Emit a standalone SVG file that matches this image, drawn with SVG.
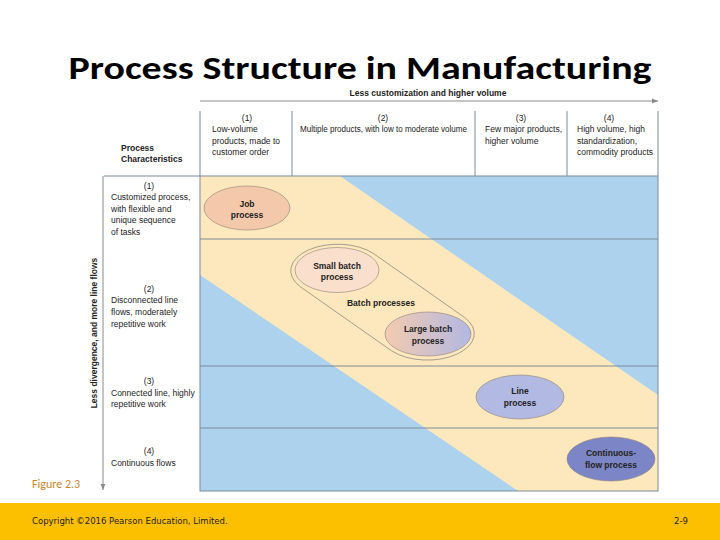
<svg xmlns="http://www.w3.org/2000/svg" width="720" height="540" viewBox="0 0 720 540">
<style>
.t{font-family:"Liberation Sans Narrow","Liberation Sans",Arial,sans-serif;font-size:8.5px;fill:#222}
.b{font-weight:bold}
.c{text-anchor:middle}
.grid{stroke:#7c8c9a;stroke-width:1;fill:none}
.ell{stroke:#8b7f79;stroke-width:0.6}
</style>
<defs>
<linearGradient id="lg" x1="0" y1="0" x2="1" y2="0">
<stop offset="0" stop-color="#f3cbb0"/>
<stop offset="1" stop-color="#b3b8e2"/>
</linearGradient>
<marker id="ah" viewBox="0 0 10 10" refX="10" refY="5" markerWidth="6" markerHeight="6" orient="auto" markerUnits="userSpaceOnUse">
<path d="M0,1 L10,5 L0,9 Z" fill="#8a8a8a"/>
</marker>
</defs>
<rect width="720" height="540" fill="#fff"/>
<text x="360" y="79" text-anchor="middle" font-family="Carlito,'Open Sans','Liberation Sans',sans-serif" font-weight="bold" font-size="33" fill="#000" textLength="583" lengthAdjust="spacingAndGlyphs">Process Structure in Manufacturing</text>

<g id="panel">
<rect x="200" y="176" width="458" height="315" fill="#acd2ee"/>
<polygon points="200,176 340,176 658,395 658,491 518,491 200,275" fill="#fde8bd"/>
<line class="grid" x1="200" y1="239" x2="658" y2="239"/>
<line class="grid" x1="200" y1="366" x2="658" y2="366"/>
<line class="grid" x1="200" y1="428" x2="658" y2="428"/>
<rect class="grid" x="200" y="176" width="458" height="315"/>
</g>

<g id="header">
<line class="grid" x1="200" y1="111" x2="200" y2="176"/>
<line class="grid" x1="292" y1="111" x2="292" y2="176"/>
<line class="grid" x1="475" y1="111" x2="475" y2="176"/>
<line class="grid" x1="567" y1="111" x2="567" y2="176"/>
<line class="grid" x1="658" y1="111" x2="658" y2="176"/>
<line class="grid" x1="104" y1="176" x2="200" y2="176"/>
<text class="t c" x="247" y="121">(1)</text>
<text class="t" x="212" y="132">Low-volume</text>
<text class="t" x="212" y="144">products, made to</text>
<text class="t" x="212" y="155">customer order</text>
<text class="t c" x="383" y="121">(2)</text>
<text class="t" x="300" y="132" textLength="167" lengthAdjust="spacingAndGlyphs">Multiple products, with low to moderate volume</text>
<text class="t c" x="521" y="121">(3)</text>
<text class="t" x="485" y="132">Few major products,</text>
<text class="t" x="485" y="144">higher volume</text>
<text class="t c" x="609" y="121">(4)</text>
<text class="t" x="577" y="132">High volume, high</text>
<text class="t" x="577" y="144">standardization,</text>
<text class="t" x="577" y="155">commodity products</text>
<text class="t b" x="121" y="151">Process</text>
<text class="t b" x="121" y="162">Characteristics</text>
</g>

<g id="connectors">
<line x1="200" y1="101" x2="658" y2="101" stroke="#8a8a8a" stroke-width="1" marker-end="url(#ah)"/>
<line x1="103" y1="176" x2="103" y2="490" stroke="#8a8a8a" stroke-width="1" marker-end="url(#ah)"/>
<text class="t b c" x="428" y="96">Less customization and higher volume</text>
<text class="t b c" transform="translate(97,333) rotate(-90)">Less divergence, and more line flows</text>
</g>

<g id="rows">
<text class="t c" x="149" y="189">(1)</text>
<text class="t" x="111" y="200">Customized process,</text>
<text class="t" x="111" y="212">with flexible and</text>
<text class="t" x="111" y="223">unique sequence</text>
<text class="t" x="111" y="235">of tasks</text>
<text class="t c" x="149" y="292">(2)</text>
<text class="t" x="111" y="303">Disconnected line</text>
<text class="t" x="111" y="315">flows, moderately</text>
<text class="t" x="111" y="327">repetitive work</text>
<text class="t c" x="149" y="384">(3)</text>
<text class="t" x="111" y="396">Connected line, highly</text>
<text class="t" x="111" y="407">repetitive work</text>
<text class="t c" x="149" y="454">(4)</text>
<text class="t" x="111" y="466">Continuous flows</text>
</g>

<g id="batch-group">
<path d="M373.3,253.4 L464.9,317.7 A47,26.5 0 0 1 391.7,350.9 L300.1,286.6 A47,26.5 0 0 1 373.3,253.4 Z" fill="none" stroke="#6a6a6a" stroke-width="0.6"/>
<text class="t b c" x="381" y="306">Batch processes</text>
</g>

<g id="job">
<ellipse class="ell" cx="247" cy="208" rx="43" ry="22" fill="#f4c9ab"/>
<text class="t b c" x="247" y="207">Job</text>
<text class="t b c" x="247" y="218">process</text>
</g>
<g id="small-batch">
<ellipse class="ell" cx="337" cy="270" rx="42" ry="22.5" fill="#fbdfcd"/>
<text class="t b c" x="337" y="269">Small batch</text>
<text class="t b c" x="337" y="280">process</text>
</g>
<g id="large-batch">
<ellipse class="ell" cx="428" cy="334" rx="43" ry="22" fill="url(#lg)"/>
<text class="t b c" x="428" y="332">Large batch</text>
<text class="t b c" x="428" y="344">process</text>
</g>
<g id="line">
<ellipse class="ell" cx="520" cy="397" rx="44" ry="22" fill="#b2b9e2"/>
<text class="t b c" x="520" y="394">Line</text>
<text class="t b c" x="520" y="406">process</text>
</g>
<g id="continuous">
<ellipse class="ell" cx="611" cy="459" rx="44" ry="22" fill="#7c86c6"/>
<text class="t b c" x="611" y="456">Continuous-</text>
<text class="t b c" x="611" y="468">flow process</text>
</g>

<text x="32" y="488" font-family="Carlito,'Liberation Sans',sans-serif" font-size="12" fill="#c7862c">Figure 2.3</text>

<g id="footer">
<rect x="0" y="503" width="720" height="37" fill="#fdc000"/>
<text x="32" y="524" font-family="'DejaVu Sans','Liberation Sans',sans-serif" font-size="8.5" fill="#222">Copyright ©2016 Pearson Education, Limited.</text>
<text x="674" y="524" font-family="'DejaVu Sans','Liberation Sans',sans-serif" font-size="8.5" fill="#222">2-9</text>
</g>
</svg>
